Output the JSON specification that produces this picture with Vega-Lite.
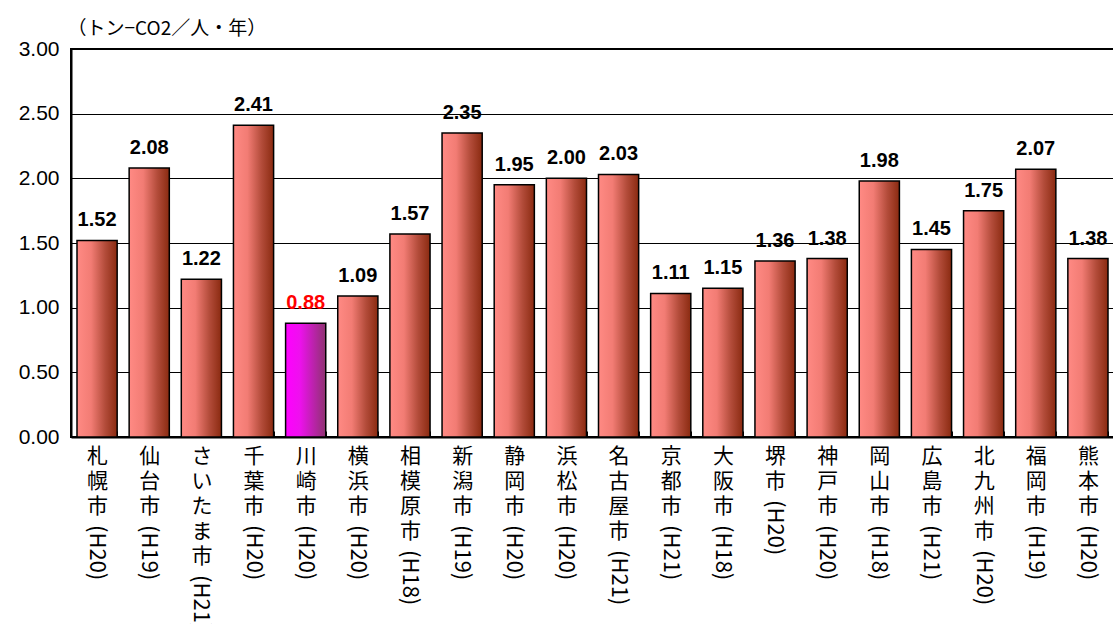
{
  "$schema": "https://vega.github.io/schema/vega-lite/v6.json",
  "width": 1043,
  "height": 388,
  "autosize": {"type": "none"},
  "padding": {"left": 71, "top": 49, "right": 0, "bottom": 187},
  "background": "white",
  "config": {"view": {"stroke": "black", "strokeWidth": 2}},
  "data": {"values": [
    {"name": "札幌市", "period": "(H20)", "value": 1.52},
    {"name": "仙台市", "period": "(H19)", "value": 2.08},
    {"name": "さいたま市", "period": "(H21)", "value": 1.22},
    {"name": "千葉市", "period": "(H20)", "value": 2.41},
    {"name": "川崎市", "period": "(H20)", "value": 0.88},
    {"name": "横浜市", "period": "(H20)", "value": 1.09},
    {"name": "相模原市", "period": "(H18)", "value": 1.57},
    {"name": "新潟市", "period": "(H19)", "value": 2.35},
    {"name": "静岡市", "period": "(H20)", "value": 1.95},
    {"name": "浜松市", "period": "(H20)", "value": 2.00},
    {"name": "名古屋市", "period": "(H21)", "value": 2.03},
    {"name": "京都市", "period": "(H21)", "value": 1.11},
    {"name": "大阪市", "period": "(H18)", "value": 1.15},
    {"name": "堺市", "period": "(H20)", "value": 1.36},
    {"name": "神戸市", "period": "(H20)", "value": 1.38},
    {"name": "岡山市", "period": "(H18)", "value": 1.98},
    {"name": "広島市", "period": "(H21)", "value": 1.45},
    {"name": "北九州市", "period": "(H20)", "value": 1.75},
    {"name": "福岡市", "period": "(H19)", "value": 2.07},
    {"name": "熊本市", "period": "(H20)", "value": 1.38}
  ]},
  "encoding": {
    "x": {
      "field": "name", "type": "nominal",
      "sort": ["札幌市", "仙台市", "さいたま市", "千葉市", "川崎市", "横浜市", "相模原市", "新潟市", "静岡市", "浜松市", "名古屋市", "京都市", "大阪市", "堺市", "神戸市", "岡山市", "広島市", "北九州市", "福岡市", "熊本市"],
      "scale": {"paddingInner": 0.23, "paddingOuter": 0.115},
      "axis": {
        "title": null, "labelAngle": 0,
        "labelExpr": "split(datum.label, '')",
        "labelFont": "Noto Sans CJK JP", "labelFontSize": 21, "labelLineHeight": 25,
        "labelColor": "black", "labelBaseline": "top", "labelPadding": 14,
        "tickBand": "extent", "tickSize": -6, "tickColor": "black", "tickWidth": 1,
        "domainColor": "black", "domainWidth": 2, "grid": false
      }
    },
    "y": {
      "field": "value", "type": "quantitative",
      "scale": {"domain": [0, 3], "nice": false},
      "axis": {
        "values": [0, 0.5, 1, 1.5, 2, 2.5, 3], "format": ".2f",
        "labelFont": "Liberation Sans", "labelFontSize": 21, "labelColor": "black", "labelPadding": 12,
        "ticks": false, "domainColor": "black", "domainWidth": 2,
        "grid": true, "gridColor": "black", "gridWidth": 1,
        "title": "（トン−CO2／人・年）", "titleAngle": 0, "titleAlign": "left", "titleBaseline": "middle",
        "titleX": -4, "titleY": -21, "titleFont": "Noto Sans CJK JP", "titleFontSize": 19,
        "titleFontWeight": "normal", "titleColor": "black"
      }
    }
  },
  "layer": [
    {
      "transform": [{"filter": "datum.name !== '川崎市'"}],
      "mark": {"type": "bar", "stroke": "black", "strokeWidth": 1.5,
        "color": {"gradient": "linear", "x1": 0, "y1": 0, "x2": 1, "y2": 0,
          "stops": [{"offset": 0, "color": "#ff8a84"}, {"offset": 0.35, "color": "#f27c74"}, {"offset": 0.7, "color": "#b34c3a"}, {"offset": 1, "color": "#8a2a10"}]}}
    },
    {
      "transform": [{"filter": "datum.name === '川崎市'"}],
      "mark": {"type": "bar", "stroke": "black", "strokeWidth": 1.5,
        "color": {"gradient": "linear", "x1": 0, "y1": 0, "x2": 1, "y2": 0,
          "stops": [{"offset": 0, "color": "#ff00ff"}, {"offset": 0.35, "color": "#ee10ee"}, {"offset": 1, "color": "#8e3370"}]}}
    },
    {
      "mark": {"type": "text", "baseline": "alphabetic", "dy": -14, "font": "Liberation Sans", "fontSize": 20, "fontWeight": "bold"},
      "encoding": {
        "text": {"field": "value", "type": "quantitative", "format": ".2f"},
        "color": {"condition": {"test": "datum.name === '川崎市'", "value": "#ff0000"}, "value": "black"}
      }
    },
    {
      "mark": {"type": "text", "angle": 90, "align": "left", "baseline": "middle",
        "font": "Noto Sans CJK JP", "fontSize": 22, "color": "black",
        "dx": {"expr": "13 + 25 * length(datum.name)"}},
      "encoding": {
        "y": {"datum": 0},
        "text": {"field": "period"}
      }
    }
  ]
}
